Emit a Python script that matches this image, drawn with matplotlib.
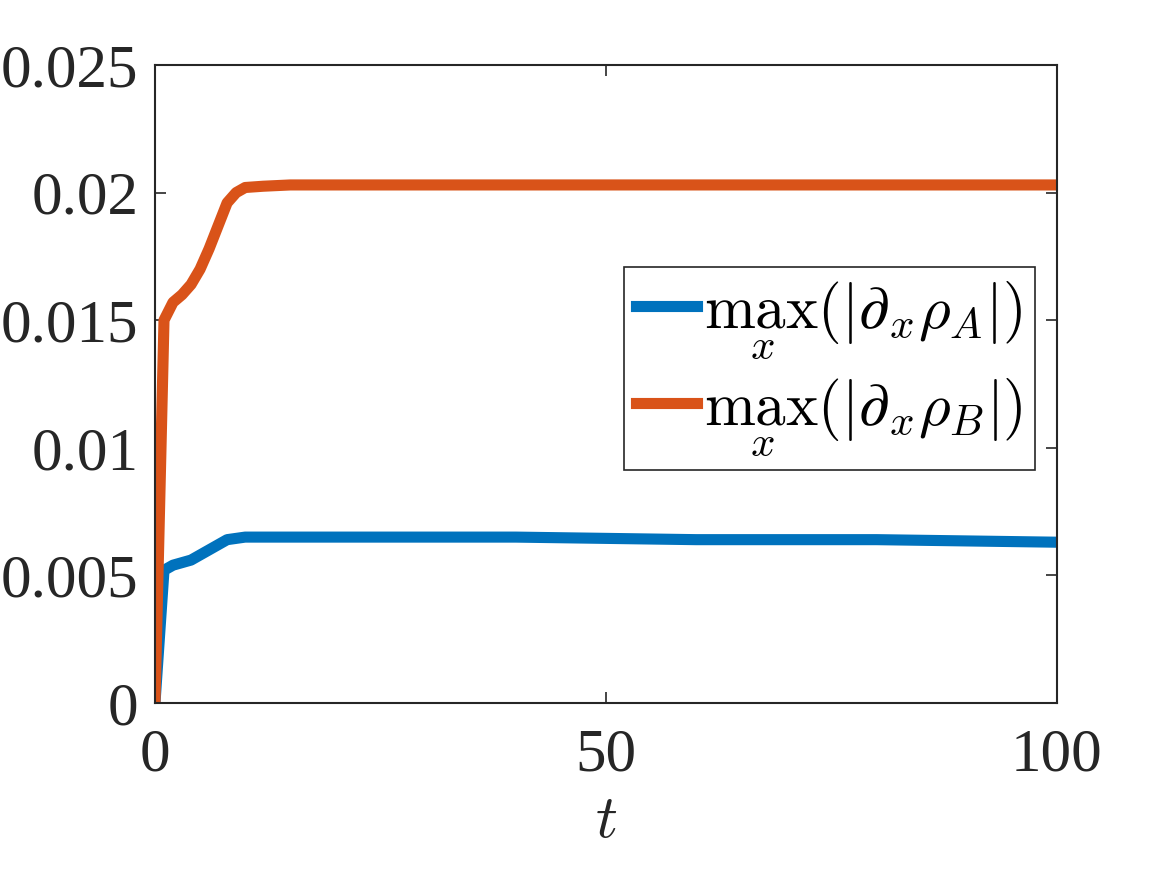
import numpy as np
import matplotlib
matplotlib.use('Agg')
import matplotlib.pyplot as plt

# values
t = [0, 1, 2, 3, 4, 5, 6, 7, 8, 9, 10, 12, 15, 20, 30, 40, 50, 60, 70, 80, 90, 100]
rho_a = [0.0, 0.0052, 0.0054, 0.0055, 0.0056, 0.0058, 0.0060, 0.0062, 0.0064, 0.00645, 0.0065,
         0.0065, 0.0065, 0.0065, 0.0065, 0.0065, 0.00645, 0.0064, 0.0064, 0.0064, 0.00635, 0.0063]
rho_b = [0.0, 0.0150, 0.0157, 0.0160, 0.0164, 0.0170, 0.0178, 0.0187, 0.0196, 0.0200, 0.0202,
         0.02025, 0.0203, 0.0203, 0.0203, 0.0203, 0.0203, 0.0203, 0.0203, 0.0203, 0.0203, 0.0203]
x_ticks = [0, 50, 100]
y_ticks = [0, 0.005, 0.01, 0.015, 0.02, 0.025]
y_labels = ['0', '0.005', '0.01', '0.015', '0.02', '0.025']
labels = [r'$\max_x(|\partial_x\!\rho_A|)$', r'$\max_x(|\partial_x\!\rho_B|)$']

plt.rcParams['font.family'] = ['Liberation Serif', 'DejaVu Serif']
plt.rcParams['mathtext.fontset'] = 'cm'

fig = plt.figure(figsize=(11.67, 8.75), dpi=100)
ax = fig.add_axes([0.1328, 0.1966, 0.7729, 0.7291])

ax.plot(t, rho_a, color='#0072BD', lw=8, label=labels[0])
ax.plot(t, rho_b, color='#D95319', lw=8, label=labels[1])

ax.set_xlim(0, 100)
ax.set_ylim(0, 0.025)
ax.set_xticks(x_ticks)
ax.set_yticks(y_ticks)
ax.set_yticklabels(y_labels)
ax.tick_params(direction='in', length=8, width=1.2, labelsize=44, colors='#262626',
               top=True, right=True)
ax.tick_params(axis='x', pad=18)
ax.tick_params(axis='y', pad=12)
for s in ax.spines.values():
    s.set_color('#262626')
    s.set_linewidth(1.5)

ax.set_xlabel(r'$t$', fontsize=44, color='#262626', labelpad=8)

leg = ax.legend(loc='upper right', bbox_to_anchor=(0.976, 0.683), borderaxespad=0,
                fontsize=44, handlelength=1.0, handletextpad=0.12, borderpad=0.2,
                labelspacing=0.25, fancybox=False, framealpha=1, edgecolor='#262626')
leg.get_frame().set_linewidth(1.2)

fig.savefig('out.png', dpi=100)
